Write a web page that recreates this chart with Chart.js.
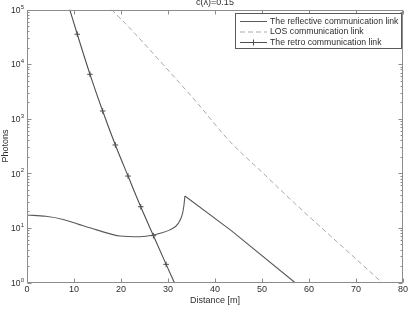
<!DOCTYPE html>
<html>
<head>
<meta charset="utf-8">
<script src="https://cdn.jsdelivr.net/npm/chart.js@4"></script>
<style>
  html, body { margin: 0; padding: 0; background: #fff; }
</style>
</head>
<body>
<canvas id="chart" width="418" height="312"></canvas>
<script>
// values (x = distance in m, y = photons)
const reflectX = [0, 4, 7.7, 11, 14.8, 19.8, 24.0, 26.9, 28.3, 30.4, 32.2, 33.1, 33.4, 33.6];
const reflectY = [17.2, 16.3, 14.3, 11.6, 9.2, 7.1, 6.9, 7.4, 8.0, 9.2, 12.1, 18.5, 26.3, 38.4];
const reflectTailX = [33.6, 43.4, 57.0];
const reflectTailY = [38.4, 9.0, 1.0];

const losX = [18.0, 23.0, 29.4, 36.1, 43.2, 50, 57, 64, 70, 75.5];
const losY = [100000, 36000, 8900, 2000, 380, 105, 28, 7.9, 2.7, 1];

const retroX = [9.1, 10.7, 13.4, 16.1, 18.8, 21.5, 24.2, 26.9, 29.6, 31.35];
const retroY = [100000, 35200, 6500, 1384, 330, 89, 24.4, 7.2, 2.15, 1];

const xTicks = [0, 10, 20, 30, 40, 50, 60, 70, 80];
const yDecades = [0, 1, 2, 3, 4, 5];

const seriesNames = [
  "The reflective communication link",
  "LOS communication link",
  "The retro communication link",
];
const titleText = "c(\u03bb)=0.15";

const toPts = (xs, ys) => xs.map((x, i) => ({ x: x, y: ys[i] }));

const lineReflect = "#5a5a5a";
const lineLos = "#a9a9a9";
const lineRetro = "#4e4e4e";
const textCol = "#2e2e2e";
const axisCol = "#8c8c8c";

const decor = {
  id: "decor",
  afterDraw(chart) {
    const { ctx, chartArea: a, scales } = chart;
    const xs = scales.x, ys = scales.y;
    const L = Math.round(a.left) + 0.5, R = Math.round(a.right) - 0.5;
    const T = Math.round(a.top) + 0.5, B = Math.round(a.bottom) - 0.5;
    ctx.save();

    // frame
    ctx.strokeStyle = axisCol;
    ctx.lineWidth = 1;
    ctx.strokeRect(L, T, R - L, B - T);

    // inward ticks
    ctx.beginPath();
    xTicks.forEach(v => {
      const px = Math.round(xs.getPixelForValue(v)) + 0.5;
      ctx.moveTo(px, B); ctx.lineTo(px, B - 4);
      ctx.moveTo(px, T); ctx.lineTo(px, T + 4);
    });
    yDecades.forEach(d => {
      const py = Math.round(ys.getPixelForValue(Math.pow(10, d))) + 0.5;
      ctx.moveTo(L, py); ctx.lineTo(L + 4, py);
      ctx.moveTo(R, py); ctx.lineTo(R - 4, py);
      if (d < 5) {
        for (let m = 2; m <= 9; m++) {
          const q = Math.round(ys.getPixelForValue(m * Math.pow(10, d))) + 0.5;
          ctx.moveTo(L, q); ctx.lineTo(L + 2, q);
          ctx.moveTo(R, q); ctx.lineTo(R - 2, q);
        }
      }
    });
    ctx.stroke();

    // y tick labels 10^n
    ctx.fillStyle = textCol;
    yDecades.forEach(d => {
      const py = ys.getPixelForValue(Math.pow(10, d));
      ctx.font = "8.5px Arial, 'Liberation Sans', sans-serif";
      ctx.textAlign = "right";
      ctx.textBaseline = "middle";
      ctx.fillText("10", 20.5, py + 1);
      ctx.font = "6px Arial, 'Liberation Sans', sans-serif";
      ctx.textAlign = "left";
      ctx.fillText(String(d), 20.8, py - 2.5);
    });

    // title, cut by the top edge
    ctx.font = "9px Arial, 'Liberation Sans', sans-serif";
    ctx.textAlign = "center";
    ctx.textBaseline = "alphabetic";
    ctx.fillText(titleText, (a.left + a.right) / 2, 4.5);

    // legend box
    const bx = 235.5, by = 13.5, bw = 166, bh = 35;
    ctx.fillStyle = "#fff";
    ctx.fillRect(bx, by, bw, bh);
    ctx.strokeStyle = "#5a5a5a";
    ctx.strokeRect(bx, by, bw, bh);
    const rows = [21, 31.5, 42];
    const cols = [lineReflect, lineLos, lineRetro];
    rows.forEach((ry, i) => {
      ctx.strokeStyle = cols[i];
      ctx.setLineDash(i === 1 ? [5, 3] : []);
      ctx.beginPath();
      ctx.moveTo(240, ry + 0.5); ctx.lineTo(267, ry + 0.5);
      ctx.stroke();
      ctx.setLineDash([]);
      if (i === 2) {
        ctx.beginPath();
        ctx.moveTo(253.5, ry - 2.5); ctx.lineTo(253.5, ry + 3.5);
        ctx.moveTo(250.5, ry + 0.5); ctx.lineTo(256.5, ry + 0.5);
        ctx.stroke();
      }
      ctx.fillStyle = textCol;
      ctx.font = "8.7px Arial, 'Liberation Sans', sans-serif";
      ctx.textAlign = "left";
      ctx.textBaseline = "middle";
      ctx.fillText(seriesNames[i], 270, ry + 0.5);
    });
    ctx.restore();
  }
};

new Chart(document.getElementById("chart"), {
  type: "scatter",
  data: {
    datasets: [
      {
        label: seriesNames[0],
        data: toPts(reflectX, reflectY),
        showLine: true,
        borderColor: lineReflect,
        borderWidth: 1.1,
        pointRadius: 0,
        cubicInterpolationMode: "monotone",
      },
      {
        label: seriesNames[0] + " tail",
        data: toPts(reflectTailX, reflectTailY),
        showLine: true,
        borderColor: lineReflect,
        borderWidth: 1.1,
        pointRadius: 0,
        tension: 0,
      },
      {
        label: seriesNames[1],
        data: toPts(losX, losY),
        showLine: true,
        borderColor: lineLos,
        borderWidth: 1,
        borderDash: [5, 3],
        pointRadius: 0,
        cubicInterpolationMode: "monotone",
      },
      {
        label: seriesNames[2],
        data: toPts(retroX, retroY),
        showLine: true,
        borderColor: lineRetro,
        borderWidth: 1.1,
        pointStyle: "cross",
        pointRadius: retroX.map((v, i) => (i === 0 || i === retroX.length - 1 ? 0 : 2.8)),
        pointBorderColor: lineRetro,
        pointBorderWidth: 1,
        cubicInterpolationMode: "monotone",
      },
    ],
  },
  options: {
    responsive: false,
    animation: false,
    layout: { padding: { top: 9.5, right: 15, left: 0, bottom: 0 } },
    plugins: {
      legend: { display: false },
      tooltip: { enabled: false },
      title: { display: false },
    },
    scales: {
      x: {
        type: "linear",
        min: 0,
        max: 80,
        afterBuildTicks: (s) => { s.ticks = xTicks.map(v => ({ value: v })); },
        afterFit: (s) => { s.height = 29.5; },
        grid: { display: false, drawTicks: false },
        border: { display: false },
        ticks: {
          padding: 2,
          color: textCol,
          font: { size: 9, family: "Arial, 'Liberation Sans', sans-serif" },
          maxRotation: 0,
        },
        title: {
          display: true,
          text: "Distance [m]",
          color: textCol,
          font: { size: 9, family: "Arial, 'Liberation Sans', sans-serif" },
          padding: { top: 0, bottom: 6 },
        },
      },
      y: {
        type: "logarithmic",
        min: 1,
        max: 100000,
        afterFit: (s) => { s.width = 27; },
        grid: { display: false, drawTicks: false },
        border: { display: false },
        ticks: { display: false },
        title: {
          display: true,
          text: "Photons",
          color: textCol,
          font: { size: 9, family: "Arial, 'Liberation Sans', sans-serif" },
          padding: { top: 0, bottom: 0 },
        },
      },
    },
  },
  plugins: [decor],
});
</script>
</body>
</html>
